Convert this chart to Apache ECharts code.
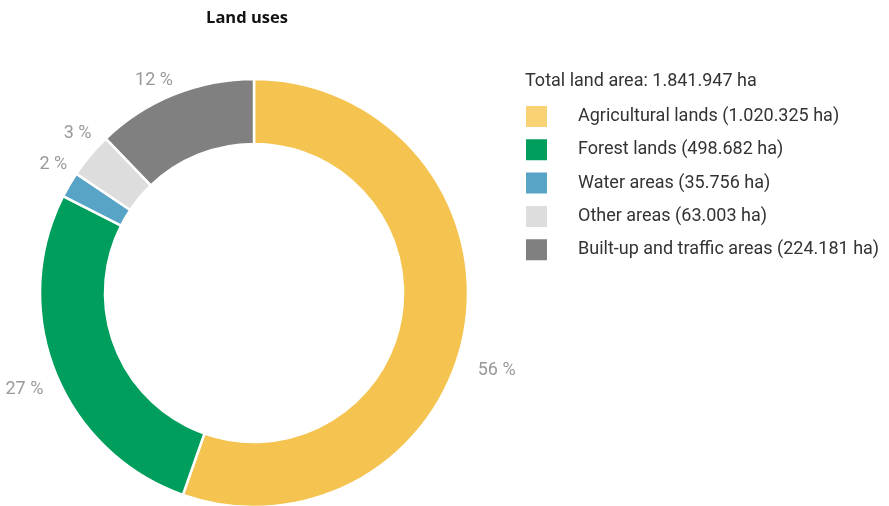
<!DOCTYPE html>
<html>
<head>
<meta charset="utf-8">
<script src="https://cdn.jsdelivr.net/npm/echarts@6/dist/echarts.min.js"></script>
<style>
  html, body { margin: 0; padding: 0; background: #fff; }
  #chart { width: 889px; height: 506px; }
</style>
</head>
<body>
<div id="chart"></div>
<script>
// Land use categories, areas in hectares, and the printed shares
const categories = [
  'Agricultural lands',
  'Forest lands',
  'Water areas',
  'Other areas',
  'Built-up and traffic areas'
];
const areaHa = [1020325, 498682, 35756, 63003, 224181];
const areaText = ['1.020.325', '498.682', '35.756', '63.003', '224.181'];
const shareLabels = ['56 %', '27 %', '2 %', '3 %', '12 %'];
const totalText = '1.841.947';

const sliceColors = ['#F5C34F', '#009E5C', '#57A4C7', '#DDDDDD', '#808080'];
const legendColors = ['#F9D276', '#009E5C', '#57A4C7', '#DDDDDD', '#808080'];
// small label nudges so the share labels sit clear of neighbouring text
const labelNudge = [[-6, 39], [6, 12], [15, -13], [17, -13], [9, -1]];

const names = categories.map((c, i) => c + ' (' + areaText[i] + ' ha)');

const chart = echarts.init(document.getElementById('chart'), null, { renderer: 'canvas' });

chart.setOption({
  animation: false,
  textStyle: { fontFamily: 'Roboto' },
  title: [
    {
      text: 'Land uses',
      left: 242, top: 5, textAlign: 'center',
      textStyle: { fontSize: 16.5, fontWeight: 'bold', color: '#111', fontFamily: 'Open Sans' }
    },
    {
      text: 'Total land area: ' + totalText + ' ha',
      left: 520, top: 67,
      textStyle: { fontSize: 18, fontWeight: 'normal', color: '#333', fontFamily: 'Roboto' }
    }
  ],
  legend: {
    orient: 'vertical',
    left: 519, top: 99,
    itemWidth: 23, itemHeight: 23,
    itemGap: 8.3,
    icon: 'rect',
    selectedMode: false,
    textStyle: { fontSize: 18, color: '#333', padding: [0, 0, 0, 25], fontFamily: 'Roboto' },
    data: names.map((n, i) => ({ name: n, itemStyle: { color: legendColors[i] } }))
  },
  series: [{
    type: 'pie',
    center: [254, 293],
    radius: [149, 214],
    startAngle: 90,
    clockwise: true,
    avoidLabelOverlap: false,
    itemStyle: { borderColor: '#fff', borderWidth: 2.5 },
    label: {
      show: true,
      position: 'outside',
      fontSize: 18,
      color: '#999',
      fontFamily: 'Roboto'
    },
    labelLine: { show: false, length: 14, length2: 0 },
    emphasis: { disabled: true },
    data: areaHa.map((v, i) => ({
      name: names[i],
      value: v,
      itemStyle: { color: sliceColors[i] },
      label: { formatter: shareLabels[i], offset: labelNudge[i] }
    }))
  }]
});
</script>
</body>
</html>
